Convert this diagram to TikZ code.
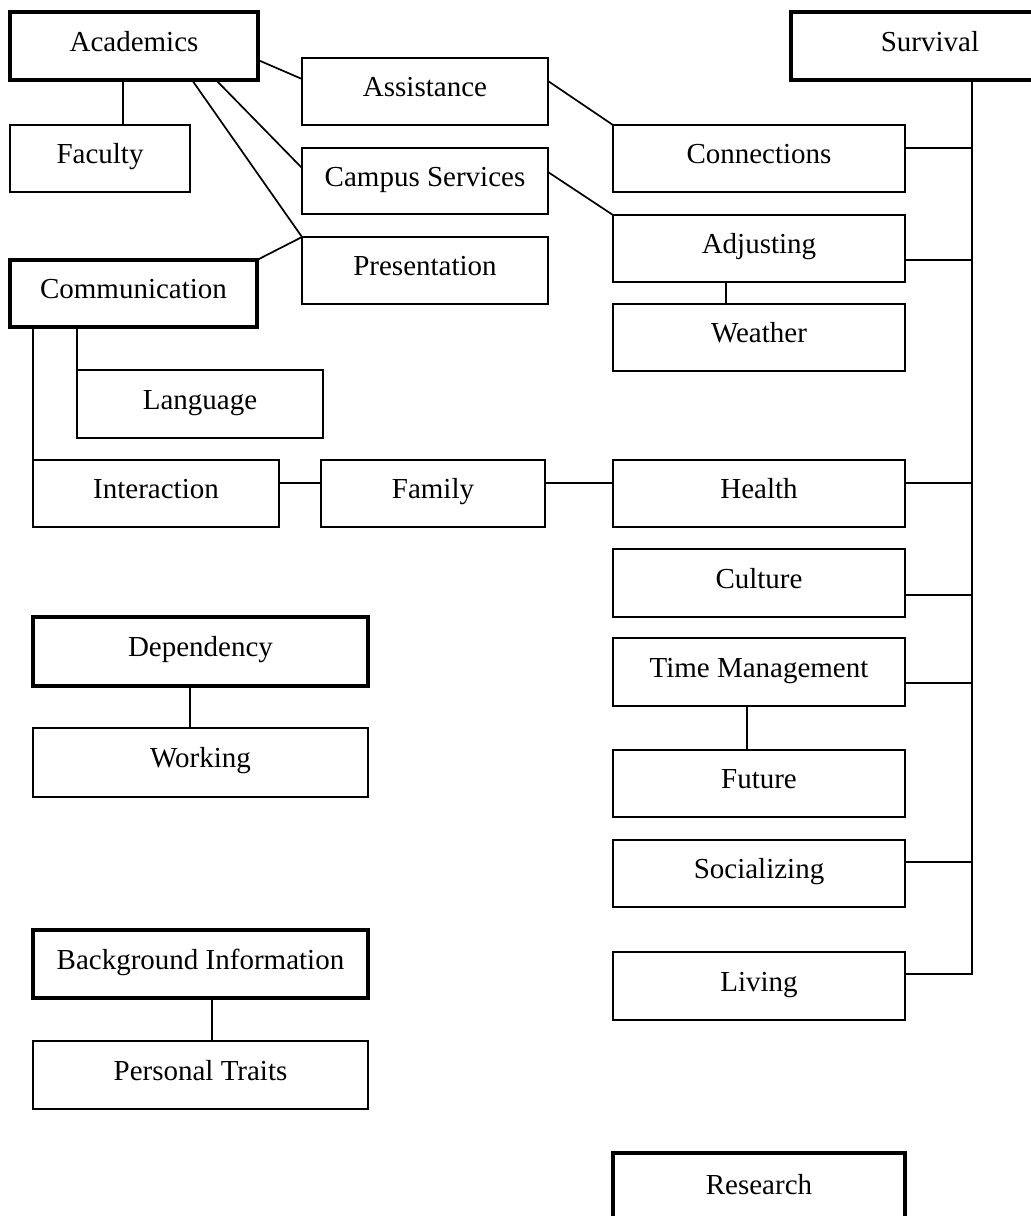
\documentclass[tikz,border=0pt]{standalone}
\usepackage{fontspec}
\setmainfont{Liberation Serif}
\begin{document}
\begin{tikzpicture}[x=1pt,y=-1pt,
  cell/.style={draw, line width=1.7pt, inner sep=0pt, outer sep=0pt,
    minimum height=67pt, font=\fontsize{29pt}{34pt}\selectfont,
    text height=20pt, text depth=10pt},
  headcell/.style={cell, line width=3.4pt},
  link/.style={line width=1.7pt}]
\clip (0,0) rectangle (1031,1216);
\fill[white] (0,0) rectangle (1031,1216);

% main categories
\node[headcell, minimum width=248pt, minimum height=68pt] (acad) at (134,46) {Academics};
\node[headcell, minimum width=278pt, minimum height=68pt] (surv) at (930,46) {Survival};
\node[headcell, minimum width=247pt] (comm) at (133.5,293.5) {Communication};
\node[headcell, minimum width=335pt, minimum height=69pt] (dep) at (200.5,651.5) {Dependency};
\node[headcell, minimum width=335pt, minimum height=68pt] (bg) at (200.5,964) {Background Information};
\node[headcell, minimum width=292pt, minimum height=72pt] (res) at (759,1189) {Research};

% middle column
\node[cell, minimum width=246pt] (assist) at (425,91.5) {Assistance};
\node[cell, minimum width=246pt, minimum height=66pt] (camp) at (425,181) {Campus Services};
\node[cell, minimum width=246pt] (pres) at (425,270.5) {Presentation};

% left column
\node[cell, minimum width=180pt] (fac) at (100,158.5) {Faculty};
\node[cell, minimum width=246pt, minimum height=68pt] (lang) at (200,404) {Language};
\node[cell, minimum width=246pt] (inter) at (156,493.5) {Interaction};
\node[cell, minimum width=224pt] (fam) at (433,493.5) {Family};
\node[cell, minimum width=335pt, minimum height=69pt] (work) at (200.5,762.5) {Working};
\node[cell, minimum width=335pt, minimum height=68pt] (pers) at (200.5,1075) {Personal Traits};

% right column
\node[cell, minimum width=292pt] (conn) at (759,158.5) {Connections};
\node[cell, minimum width=292pt] (adj) at (759,248.5) {Adjusting};
\node[cell, minimum width=292pt] (weath) at (759,337.5) {Weather};
\node[cell, minimum width=292pt] (health) at (759,493.5) {Health};
\node[cell, minimum width=292pt, minimum height=68pt] (cult) at (759,583) {Culture};
\node[cell, minimum width=292pt, minimum height=68pt] (tm) at (759,672) {Time Management};
\node[cell, minimum width=292pt] (fut) at (759,783.5) {Future};
\node[cell, minimum width=292pt] (soc) at (759,873.5) {Socializing};
\node[cell, minimum width=292pt, minimum height=68pt] (liv) at (759,986) {Living};

% Academics links
\draw[link] ([yshift=-14pt]acad.east) -- ([yshift=12.5pt]assist.west);
\draw[link] ([xshift=82pt]acad.south) -- ([yshift=13pt]camp.west);
\draw[link] ([xshift=58pt]acad.south) -- (pres.north west);
\draw[link] ([xshift=-11pt]acad.south) -- ([xshift=23pt]fac.north);
\draw[link] (comm.north east) -- (pres.north west);
\draw[link] ([yshift=10.5pt]assist.east) -- (conn.north west);
\draw[link] ([yshift=9pt]camp.east) -- (adj.north west);

% Communication links
\draw[link] ([xshift=23pt]comm.south west) -- (inter.north west);
\draw[link] ([xshift=67pt]comm.south west) -- (lang.north west);
\draw[link] ([yshift=10.5pt]inter.east) -- ([yshift=10.5pt]fam.west);
\draw[link] ([yshift=10.5pt]fam.east) -- ([yshift=10.5pt]health.west);

% sub-item links
\draw[link] ([xshift=-33pt]adj.south) -- ([xshift=-33pt]weath.north);
\draw[link] ([xshift=-12pt]tm.south) -- ([xshift=-12pt]fut.north);
\draw[link] ([xshift=-10.5pt]dep.south) -- ([xshift=-10.5pt]work.north);
\draw[link] ([xshift=11.5pt]bg.south) -- ([xshift=11.5pt]pers.north);

% Survival trunk and branches
\coordinate (trunk) at ([xshift=42pt]surv.south);
\draw[link] ([yshift=10.5pt]conn.east) -| (trunk);
\draw[link] ([yshift=-11.5pt]adj.east) -| (trunk);
\draw[link] ([yshift=10.5pt]health.east) -| (trunk);
\draw[link] ([yshift=-12pt]cult.east) -| (trunk);
\draw[link] ([yshift=-11pt]tm.east) -| (trunk);
\draw[link] ([yshift=11.5pt]soc.east) -| (trunk);
\draw[link] ([yshift=12pt]liv.east) -| (trunk);
\end{tikzpicture}
\end{document}
